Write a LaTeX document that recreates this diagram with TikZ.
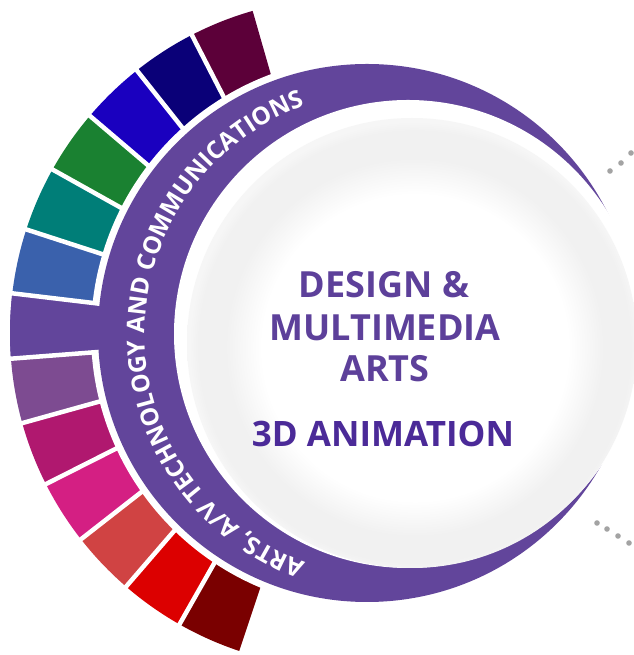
\documentclass[tikz,border=0pt]{standalone}
\usepackage{fontspec}
\setmainfont{Open Sans}
\usetikzlibrary{decorations.text}
\definecolor{cMaroon}{HTML}{5C0039}
\definecolor{cNavy}{HTML}{0A0078}
\definecolor{cBlue}{HTML}{1A00BF}
\definecolor{cGreen}{HTML}{1A8131}
\definecolor{cTeal}{HTML}{007E78}
\definecolor{cSteel}{HTML}{3A61AC}
\definecolor{cPurple}{HTML}{62459B}
\definecolor{cMauve}{HTML}{7D4B91}
\definecolor{cMagenta}{HTML}{B0186F}
\definecolor{cPink}{HTML}{D41F83}
\definecolor{cCoral}{HTML}{D04343}
\definecolor{cRed}{HTML}{DC0000}
\definecolor{cDarkRed}{HTML}{7A0000}
\definecolor{titlePurple}{HTML}{5D409A}
\definecolor{animPurple}{HTML}{4B2A98}
\definecolor{haloG}{HTML}{F1F1F1}
\definecolor{haloE}{HTML}{F6F6F6}
\definecolor{dotGrey}{HTML}{A3A3A3}
\pgfdeclareradialshading{halo}{\pgfpoint{0.5bp}{-0.8bp}}{color(0bp)=(white); color(17bp)=(white); color(21bp)=(haloG); color(24bp)=(haloG); color(25bp)=(haloE); color(50bp)=(haloE)}
\newcommand{\bandfont}{\fontsize{24.5}{24.5}\selectfont\bfseries}
\tikzset{
  sep/.style={white, line width=4.5pt},
  titletext/.style={font=\fontsize{36}{36}\selectfont\bfseries, text=titlePurple, inner sep=0pt, anchor=base},
  animtext/.style={font=\fontsize{35}{35}\selectfont\bfseries, text=animPurple, inner sep=0pt, anchor=base},
  dot/.style={fill=dotGrey}
}
\begin{document}
\begin{tikzpicture}[x=1pt,y=1pt]
\useasboundingbox (0,0) rectangle (633,655);
\coordinate (Co) at (345,322);
\coordinate (Ci) at (367,322);
\coordinate (Cw) at (408,321);
\coordinate (Ch) at (412,312);
\coordinate (Ct) at (388,321);
% colored blocks
\begin{scope}
\clip (Co) circle (335);
\foreach \c [count=\i from 0] in {cMaroon,cNavy,cBlue,cGreen,cTeal,cSteel,cPurple,cMauve,cMagenta,cPink,cCoral,cRed,cDarkRed} {
  \pgfmathsetmacro\aa{106+11.2*\i}
  \pgfmathsetmacro\ab{\aa+11.2}
  \fill[\c] (Co) -- ([shift={(\aa:420)}]Co) -- ([shift={(\ab:420)}]Co) -- cycle;
}
\end{scope}
% white gap ring
\fill[white] (Ci) circle (276);
% purple block joins the band
\begin{scope}
\clip (Co) circle (335);
\fill[cPurple] (Co) -- ([shift={(173.2:420)}]Co) -- ([shift={(184.4:420)}]Co) -- cycle;
\end{scope}
% separators
\foreach \k in {1,...,12} {
  \pgfmathsetmacro\aa{106+11.2*\k}
  \draw[sep] ([shift={(\aa:150)}]Co) -- ([shift={(\aa:345)}]Co);
}
% purple band
\fill[cPurple] (Ci) circle (269);
% white disk
\fill[white] (Cw) circle (234);
% halo disk
\shade[shading=halo] (Ch) circle (225);
% band text
\path[decorate, decoration={text along path, text align=center, text color=white,
  text={|\bandfont|ARTS, A/V TECHNOLOGY AND COMMUNICATIONS}}]
  ([shift={(265:243)}]Ct) arc[start angle=265, end angle=95, radius=243];
% titles
\node[titletext] (t1) at (384,357) {DESIGN \&};
\node[titletext] (t2) at (385,314) {MULTIMEDIA};
\node[titletext] (t3) at (385,273) {ARTS};
\node[animtext] (t4) at (383,208) {3D ANIMATION};
% dots
\foreach \p in {(610,484),(621,492),(631,502),(597,132),(607,126),(618,119),(629,112)} {
  \fill[dot] \p circle (2.8);
}
\end{tikzpicture}
\end{document}
